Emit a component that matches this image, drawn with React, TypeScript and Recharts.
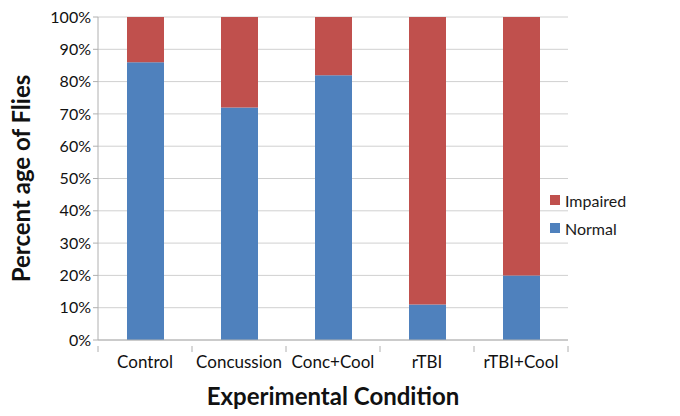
import React from "react";
import { BarChart, Bar, XAxis, YAxis, CartesianGrid } from "recharts";

const categories = ["Control", "Concussion", "Conc+Cool", "rTBI", "rTBI+Cool"];
const normalValues = [86, 72, 82, 11, 20];
const impairedValues = [14, 28, 18, 89, 80];
const yTicks = [0, 10, 20, 30, 40, 50, 60, 70, 80, 90, 100];
const legendItems = ["Impaired", "Normal"];

const data = categories.map((c, i) => ({
  name: c,
  Normal: normalValues[i],
  Impaired: impairedValues[i],
}));

const FONT = "Lato, 'Open Sans', sans-serif";
const BLUE = "#4F81BD";
const RED = "#C0504D";
const AXIS = "#b0b0b0";
const colorOf: Record<string, string> = { Impaired: RED, Normal: BLUE };

const W = 680;
const H = 416;
const LEFT = 98;
const RIGHT = 112;
const HALF_BAND = (W - LEFT - RIGHT) / categories.length / 2;

const XTick = (props: any) => {
  const { x, y, payload, index } = props;
  const isLast = index === categories.length - 1;
  return (
    <g>
      <line x1={x - HALF_BAND} x2={x - HALF_BAND} y1={y - 12} y2={y - 6} stroke={AXIS} />
      {isLast && <line x1={x + HALF_BAND} x2={x + HALF_BAND} y1={y - 12} y2={y - 6} stroke={AXIS} />}
      <text x={x} y={y + 10} textAnchor="middle" fill="#111" fontSize={17} fontFamily={FONT}>
        {payload.value}
      </text>
    </g>
  );
};

export default function App() {
  return (
    <div style={{ position: "absolute", left: 0, top: 0, width: W, height: H, background: "#fff" }}>
      <BarChart
        width={W}
        height={H}
        data={data}
        margin={{ top: 17, right: RIGHT, bottom: 0, left: 0 }}
        barSize={37}
      >
        <CartesianGrid vertical={false} stroke="#d0d0d0" />
        <XAxis
          dataKey="name"
          tickLine={false}
          axisLine={{ stroke: AXIS }}
          tick={<XTick />}
          tickMargin={12}
          interval={0}
          height={76}
          label={{
            value: "Experimental Condition",
            position: "insideBottom",
            offset: 11,
            style: { fontFamily: FONT, fontWeight: 700, fontSize: 24, fill: "#111" },
          }}
        />
        <YAxis
          width={LEFT}
          domain={[0, 100]}
          ticks={yTicks}
          tickFormatter={(v: number) => `${v}%`}
          tickLine={{ stroke: AXIS }}
          tickSize={5}
          axisLine={{ stroke: AXIS }}
          tick={{ fill: "#111", fontSize: 16, fontFamily: FONT }}
          interval={0}
          label={{
            value: "Percent age of Flies",
            angle: -90,
            position: "insideLeft",
            offset: 21,
            style: { textAnchor: "middle", fontFamily: FONT, fontWeight: 700, fontSize: 24, fill: "#111" },
          }}
        />
        <Bar dataKey="Normal" stackId="a" fill={BLUE} isAnimationActive={false} />
        <Bar dataKey="Impaired" stackId="a" fill={RED} isAnimationActive={false} />
      </BarChart>
      <div style={{ position: "absolute", left: 550, top: 186, fontFamily: FONT, fontSize: 16, color: "#1a1a1a" }}>
        {legendItems.map((label) => (
          <div key={label} style={{ display: "flex", alignItems: "center", height: 28 }}>
            <span style={{ width: 10, height: 10, background: colorOf[label], display: "inline-block", marginRight: 5 }} />
            <span>{label}</span>
          </div>
        ))}
      </div>
    </div>
  );
}
